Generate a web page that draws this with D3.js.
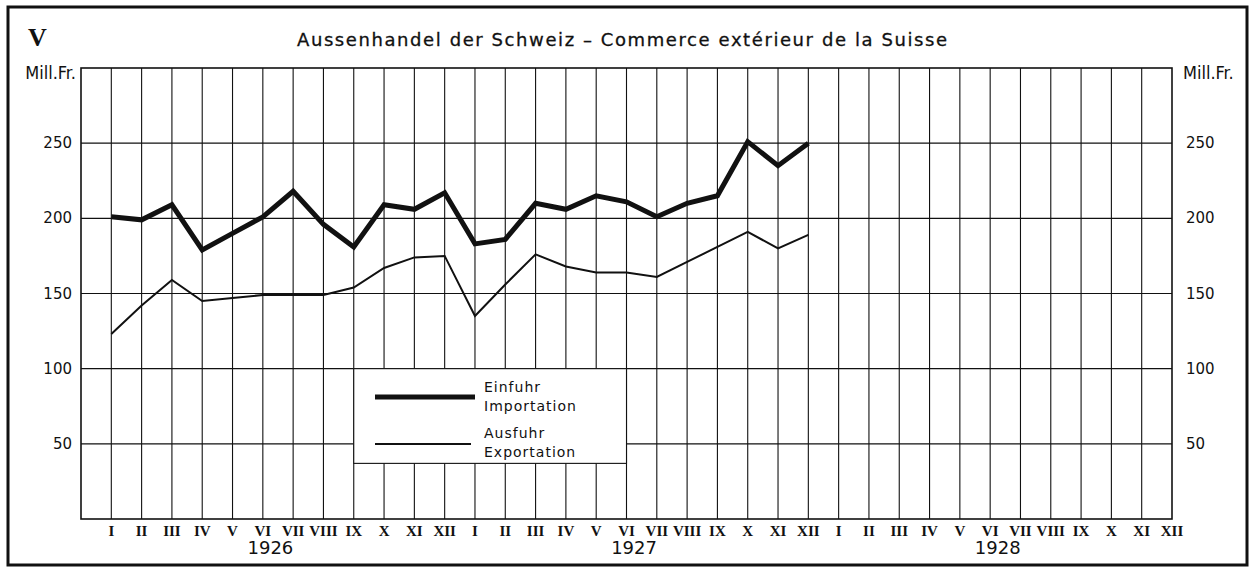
<!DOCTYPE html>
<meta charset="utf-8">
<style>
  body { margin: 0; background: #fff; }
  svg text { fill: #111; }
  .tick-y { font-family: 'DejaVu Sans', sans-serif; font-size: 15px; }
  .unit { font-family: 'Liberation Sans Narrow', 'DejaVu Sans Condensed', sans-serif; font-size: 18px; }
  .month { font-family: 'Liberation Serif', serif; font-weight: bold; font-size: 15px; }
  .year { font-family: 'DejaVu Sans', sans-serif; font-size: 18px; }
  .legend { font-family: 'DejaVu Sans', sans-serif; font-size: 14px; letter-spacing: 1px; }
</style>
<script src="https://d3js.org/d3.v7.min.js"></script>
<div id="chart"></div>
<script>

// data (Mill. Fr.), Jan 1926 .. Dec 1927
var years = ["1926", "1927", "1928"];
var months = ["I", "II", "III", "IV", "V", "VI", "VII", "VIII", "IX", "X", "XI", "XII"];
var einfuhr = [201, 199, 209, 179, 190, 201, 218, 196, 181, 209, 206, 217,
               183, 186, 210, 206, 215, 211, 201, 210, 215, 251, 235, 250];
var ausfuhr = [123, 142, 159, 145, 147, 149, 149, 149, 154, 167, 174, 175,
               135, 156, 176, 168, 164, 164, 161, 171, 181, 191, 180, 189];
var yTicks = [50, 100, 150, 200, 250];

var W = 1253, H = 569;
var plot = {left: 81, right: 1172, top: 68, bottom: 519};
var nMonths = years.length * months.length;

var svg = d3.select("#chart").append("svg")
    .attr("width", W)
    .attr("height", H);

// index -1 = left border, index 35 = XII 1928 = right border
var x = d3.scaleLinear().domain([-1, nMonths - 1]).range([plot.left, plot.right]);
var y = d3.scaleLinear().domain([0, 300]).range([plot.bottom, plot.top]);

// outer frame
svg.append("rect")
    .attr("x", 8).attr("y", 7)
    .attr("width", 1239).attr("height", 558)
    .attr("fill", "none")
    .attr("stroke", "#111")
    .attr("stroke-width", 3);

// title
svg.append("text")
    .attr("x", 28).attr("y", 46)
    .style("font-family", "'Liberation Serif', serif")
    .style("font-weight", "bold")
    .style("font-size", "26px")
    .text("V");

svg.append("text")
    .attr("x", 297).attr("y", 46)
    .attr("textLength", 650)
    .attr("lengthAdjust", "spacing")
    .style("font-family", "'DejaVu Sans', sans-serif")
    .style("font-size", "18px")
    .style("stroke", "#111")
    .style("stroke-width", 0.3)
    .text("Aussenhandel der Schweiz \u2013 Commerce ext\u00e9rieur de la Suisse");

// grid
var grid = svg.append("g").attr("stroke", "#111").attr("stroke-width", 1.1);
grid.selectAll("line.h")
  .data(yTicks)
  .enter().append("line")
    .attr("x1", plot.left).attr("x2", plot.right)
    .attr("y1", function(d) { return y(d); })
    .attr("y2", function(d) { return y(d); });
grid.selectAll("line.v")
  .data(d3.range(nMonths - 1))
  .enter().append("line")
    .attr("x1", function(d) { return x(d); })
    .attr("x2", function(d) { return x(d); })
    .attr("y1", plot.top).attr("y2", plot.bottom);

svg.append("rect")
    .attr("x", plot.left).attr("y", plot.top)
    .attr("width", plot.right - plot.left).attr("height", plot.bottom - plot.top)
    .attr("fill", "none")
    .attr("stroke", "#111")
    .attr("stroke-width", 1.6);

// y axis labels both sides
svg.append("g").selectAll("text")
  .data(yTicks)
  .enter().append("text")
    .attr("class", "tick-y")
    .attr("x", 72)
    .attr("y", function(d) { return y(d) + 5; })
    .attr("text-anchor", "end")
    .text(function(d) { return d; });
svg.append("g").selectAll("text")
  .data(yTicks)
  .enter().append("text")
    .attr("class", "tick-y")
    .attr("x", 1186)
    .attr("y", function(d) { return y(d) + 5; })
    .text(function(d) { return d; });

svg.append("text").attr("class", "unit")
    .attr("x", 76).attr("y", 79).attr("text-anchor", "end")
    .text("Mill.Fr.");
svg.append("text").attr("class", "unit")
    .attr("x", 1183).attr("y", 79)
    .text("Mill.Fr.");

// month + year labels
var monthData = [];
years.forEach(function(yr, i) {
  months.forEach(function(m, j) { monthData.push({i: i * 12 + j, m: m}); });
});
svg.append("g").selectAll("text")
  .data(monthData)
  .enter().append("text")
    .attr("class", "month")
    .attr("x", function(d) { return x(d.i); })
    .attr("y", 536)
    .attr("text-anchor", "middle")
    .text(function(d) { return d.m; });
svg.append("g").selectAll("text")
  .data(years)
  .enter().append("text")
    .attr("class", "year")
    .attr("x", function(d, i) { return x(i * 12 + 5.25); })
    .attr("y", 554)
    .attr("text-anchor", "middle")
    .text(function(d) { return d; });

// lines
var line = d3.line()
    .x(function(d, i) { return x(i); })
    .y(function(d) { return y(d); });

svg.append("path")
    .datum(ausfuhr)
    .attr("d", line)
    .attr("fill", "none")
    .attr("stroke", "#111")
    .attr("stroke-width", 2);
svg.append("path")
    .datum(einfuhr)
    .attr("d", line)
    .attr("fill", "none")
    .attr("stroke", "#111")
    .attr("stroke-width", 5)
    .attr("stroke-linejoin", "miter");

// legend box (covers the grid)
var lx0 = x(8), lx1 = x(17), ly0 = y(100), ly1 = y(37);
svg.append("rect")
    .attr("x", lx0).attr("y", ly0)
    .attr("width", lx1 - lx0).attr("height", ly1 - ly0)
    .attr("fill", "#fff")
    .attr("stroke", "#111")
    .attr("stroke-width", 1.1);

svg.append("line")
    .attr("x1", 375).attr("x2", 475).attr("y1", 397).attr("y2", 397)
    .attr("stroke", "#111").attr("stroke-width", 5);
svg.append("line")
    .attr("x1", 375).attr("x2", 471).attr("y1", 444).attr("y2", 444)
    .attr("stroke", "#111").attr("stroke-width", 2);

var legText = [["Einfuhr", 392], ["Importation", 411], ["Ausfuhr", 438], ["Exportation", 457]];
svg.append("g").selectAll("text")
  .data(legText)
  .enter().append("text")
    .attr("class", "legend")
    .attr("x", 484)
    .attr("y", function(d) { return d[1]; })
    .text(function(d) { return d[0]; });

</script>
